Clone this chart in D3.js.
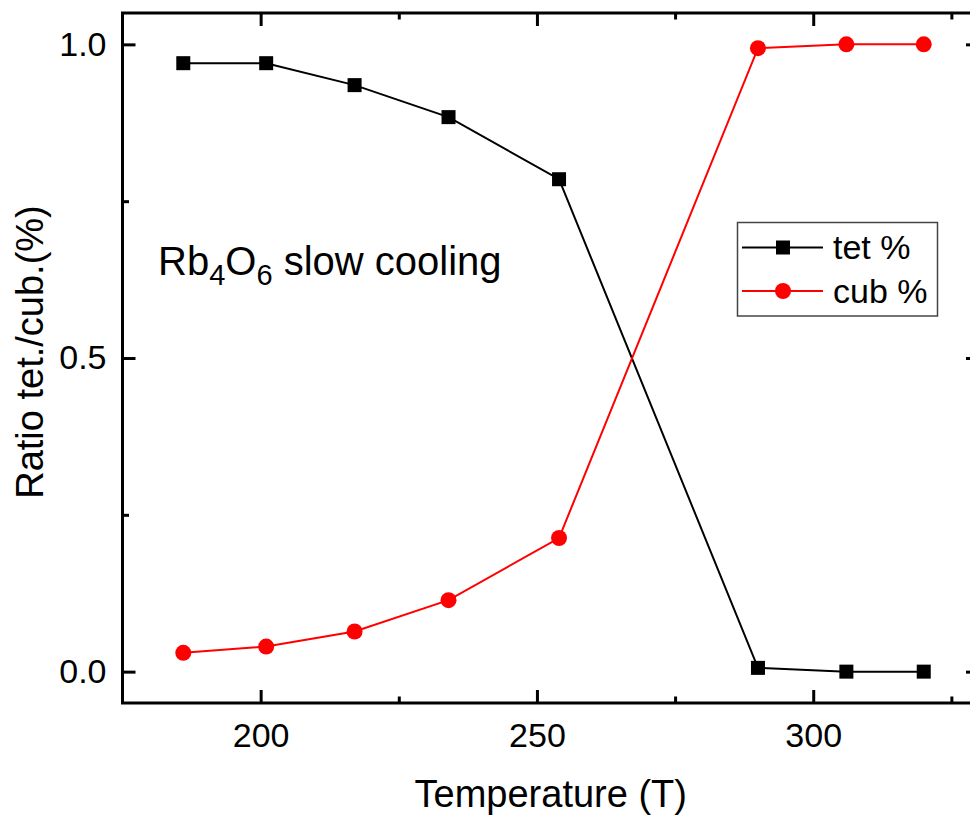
<!DOCTYPE html>
<html>
<head>
<meta charset="utf-8">
<script src="https://cdn.jsdelivr.net/npm/d3@7"></script>
<style>
  html, body { margin: 0; padding: 0; background: #fff; }
  svg text { font-family: "Liberation Sans", Arial, sans-serif; fill: #000; }
</style>
</head>
<body>
<svg id="chart" width="970" height="817"></svg>
<script>
// Phase fractions of Rb4O6 on slow cooling
const temperature = [186, 201, 217, 234, 254, 290, 306, 320];
const tetFraction = [0.970, 0.970, 0.935, 0.884, 0.785, 0.006, 0.000, 0.000];
const cubFraction = [0.030, 0.040, 0.064, 0.114, 0.213, 0.994, 1.000, 1.000];

const xMajorTicks = [200, 250, 300];
const xMinorTicks = [225, 275, 325];
const yMajorTicks = [0.0, 0.5, 1.0];
const yMinorTicks = [0.25, 0.75];

const seriesNames = ["tet %", "cub %"];
const seriesColors = ["#000000", "#ff0000"];

const svg = d3.select("#chart");
const plotLeft = 122.5, plotRight = 979, plotTop = 13, plotBottom = 703;

const x = d3.scaleLinear().domain([175, 330]).range([plotLeft, plotRight]);
const y = d3.scaleLinear().domain([-0.05, 1.05]).range([plotBottom, plotTop]);

const fmtY = d3.format(".1f");

function styleAxis(g) {
  g.select(".domain").remove();
  g.selectAll(".tick line").attr("stroke", "#000").attr("stroke-width", 3);
  g.selectAll(".tick text").attr("font-size", 34);
}

// bottom axis
svg.append("g").attr("transform", `translate(0,${plotBottom})`)
  .call(d3.axisBottom(x).tickValues(xMajorTicks).tickSize(-13).tickPadding(20).tickFormat(d3.format("d")))
  .call(styleAxis);
svg.append("g").attr("transform", `translate(0,${plotBottom})`)
  .call(d3.axisBottom(x).tickValues(xMinorTicks).tickSize(-6.5).tickFormat(""))
  .call(styleAxis);
// top axis
svg.append("g").attr("transform", `translate(0,${plotTop})`)
  .call(d3.axisTop(x).tickValues(xMajorTicks).tickSize(-13).tickFormat(""))
  .call(styleAxis);
svg.append("g").attr("transform", `translate(0,${plotTop})`)
  .call(d3.axisTop(x).tickValues(xMinorTicks).tickSize(-6.5).tickFormat(""))
  .call(styleAxis);
// left axis
svg.append("g").attr("transform", `translate(${plotLeft},0)`)
  .call(d3.axisLeft(y).tickValues(yMajorTicks).tickSize(-13).tickPadding(16).tickFormat(fmtY))
  .call(styleAxis);
svg.append("g").attr("transform", `translate(${plotLeft},0)`)
  .call(d3.axisLeft(y).tickValues(yMinorTicks).tickSize(-6.5).tickFormat(""))
  .call(styleAxis);
// right axis
svg.append("g").attr("transform", `translate(${plotRight},0)`)
  .call(d3.axisRight(y).tickValues(yMajorTicks).tickSize(-13).tickFormat(""))
  .call(styleAxis);
svg.append("g").attr("transform", `translate(${plotRight},0)`)
  .call(d3.axisRight(y).tickValues(yMinorTicks).tickSize(-6.5).tickFormat(""))
  .call(styleAxis);

// frame
svg.append("rect")
  .attr("x", plotLeft).attr("y", plotTop)
  .attr("width", plotRight - plotLeft).attr("height", plotBottom - plotTop)
  .attr("fill", "none").attr("stroke", "#000").attr("stroke-width", 3);

// axis titles
svg.append("text")
  .attr("x", (plotLeft + plotRight) / 2).attr("y", 807)
  .attr("text-anchor", "middle").attr("font-size", 38)
  .text("Temperature (T)");
svg.append("text")
  .attr("transform", "translate(43,352) rotate(-90)")
  .attr("text-anchor", "middle").attr("font-size", 38)
  .text("Ratio tet./cub.(%)");

// series
const series = [tetFraction, cubFraction];
const line = d3.line().x((d, i) => x(temperature[i])).y(d => y(d));

series.forEach((vals, s) => {
  svg.append("path")
    .datum(vals)
    .attr("d", line)
    .attr("fill", "none")
    .attr("stroke", seriesColors[s])
    .attr("stroke-width", 2);
});

const sq = 14;
svg.append("g").selectAll("rect")
  .data(tetFraction)
  .join("rect")
  .attr("x", (d, i) => x(temperature[i]) - sq / 2)
  .attr("y", d => y(d) - sq / 2)
  .attr("width", sq).attr("height", sq)
  .attr("fill", seriesColors[0]);

svg.append("g").selectAll("circle")
  .data(cubFraction)
  .join("circle")
  .attr("cx", (d, i) => x(temperature[i]))
  .attr("cy", d => y(d))
  .attr("r", 8)
  .attr("fill", seriesColors[1]);

// annotation with subscripts
const note = svg.append("text").attr("x", 158).attr("y", 275).attr("font-size", 40);
note.append("tspan").text("Rb");
note.append("tspan").attr("dy", 10).attr("font-size", 29).text("4");
note.append("tspan").attr("dy", -10).text("O");
note.append("tspan").attr("dy", 10).attr("font-size", 29).text("6");
note.append("tspan").attr("dy", -10).text(" slow cooling");

// legend
const lg = svg.append("g");
lg.append("rect")
  .attr("x", 737.5).attr("y", 222.5).attr("width", 200).attr("height", 93.5)
  .attr("fill", "#fff").attr("stroke", "#444").attr("stroke-width", 1.5);
const rowsY = [247.5, 291];
seriesNames.forEach((name, s) => {
  const ry = rowsY[s];
  lg.append("line")
    .attr("x1", 742).attr("x2", 823).attr("y1", ry).attr("y2", ry)
    .attr("stroke", seriesColors[s]).attr("stroke-width", 2);
  if (s === 0) {
    lg.append("rect").attr("x", 783 - sq / 2).attr("y", ry - sq / 2)
      .attr("width", sq).attr("height", sq).attr("fill", seriesColors[s]);
  } else {
    lg.append("circle").attr("cx", 783).attr("cy", ry).attr("r", 8).attr("fill", seriesColors[s]);
  }
  lg.append("text").attr("x", 833).attr("y", ry + 11.5).attr("font-size", 34).text(name);
});
</script>
</body>
</html>
